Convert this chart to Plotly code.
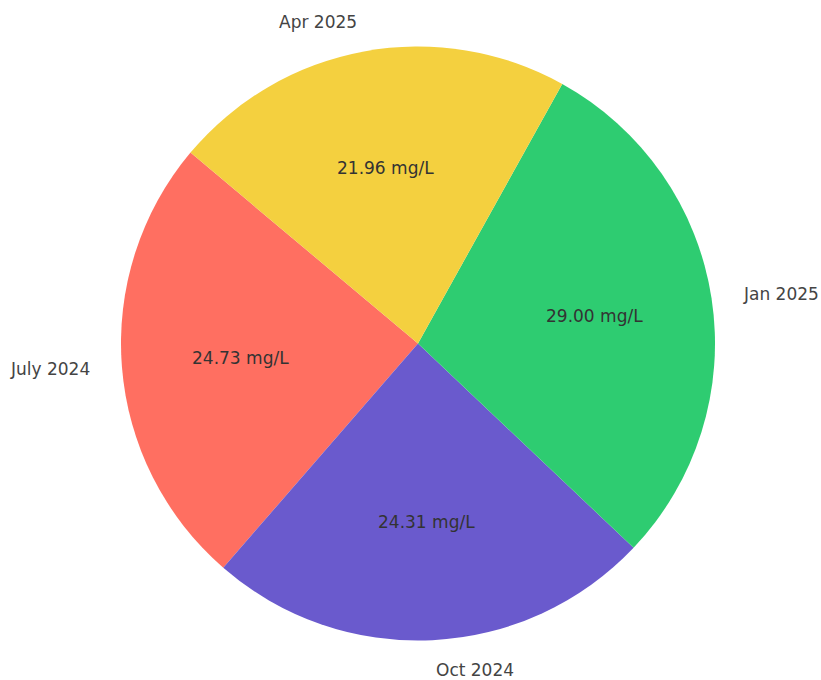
import math
import plotly.graph_objects as go

labels = ["July 2024", "Oct 2024", "Jan 2025", "Apr 2025"]
values = [24.73, 24.31, 29.00, 21.96]
colors = ["#FF6F61", "#6A5ACD", "#2ECC71", "#F4D03F"]

start_angle = 140  # degrees, counterclockwise from 3 o'clock
label_dist = 1.1
pct_dist = 0.6

total = sum(values)
# plotly's counterclockwise layout anchors the first slice's far edge at `rotation`
first_span = 360 * values[0] / total
rotation = 90 - (start_angle + first_span)

fig = go.Figure(go.Pie(
    labels=labels,
    values=values,
    marker=dict(colors=colors, line=dict(width=0)),
    sort=False,
    direction="counterclockwise",
    rotation=rotation,
    textinfo="none",
    hoverinfo="label+value",
    showlegend=False,
))

annotations = []
theta = start_angle
for lab, val in zip(labels, values):
    span = 360 * val / total
    mid = math.radians(theta + span / 2)
    theta += span
    cx, cy = math.cos(mid), math.sin(mid)
    lx = 0.5 + 0.5 * label_dist * cx
    ly = 0.5 + 0.5 * label_dist * cy
    annotations.append(dict(
        x=lx, y=ly, xref="paper", yref="paper", text=lab, showarrow=False,
        xanchor="left" if cx > 0 else "right", yanchor="middle",
        font=dict(family="DejaVu Sans", size=17, color="#444444"),
    ))
    annotations.append(dict(
        x=0.5 + 0.5 * pct_dist * cx, y=0.5 + 0.5 * pct_dist * cy,
        xref="paper", yref="paper", text=f"{val:.2f} mg/L", showarrow=False,
        xanchor="center", yanchor="middle",
        font=dict(family="DejaVu Sans", size=17, color="#333333"),
    ))

fig.update_layout(
    width=821, height=680,
    margin=dict(l=121, r=106, t=46, b=39),
    paper_bgcolor="white", plot_bgcolor="white",
    annotations=annotations,
)

fig.write_html("out.html")
